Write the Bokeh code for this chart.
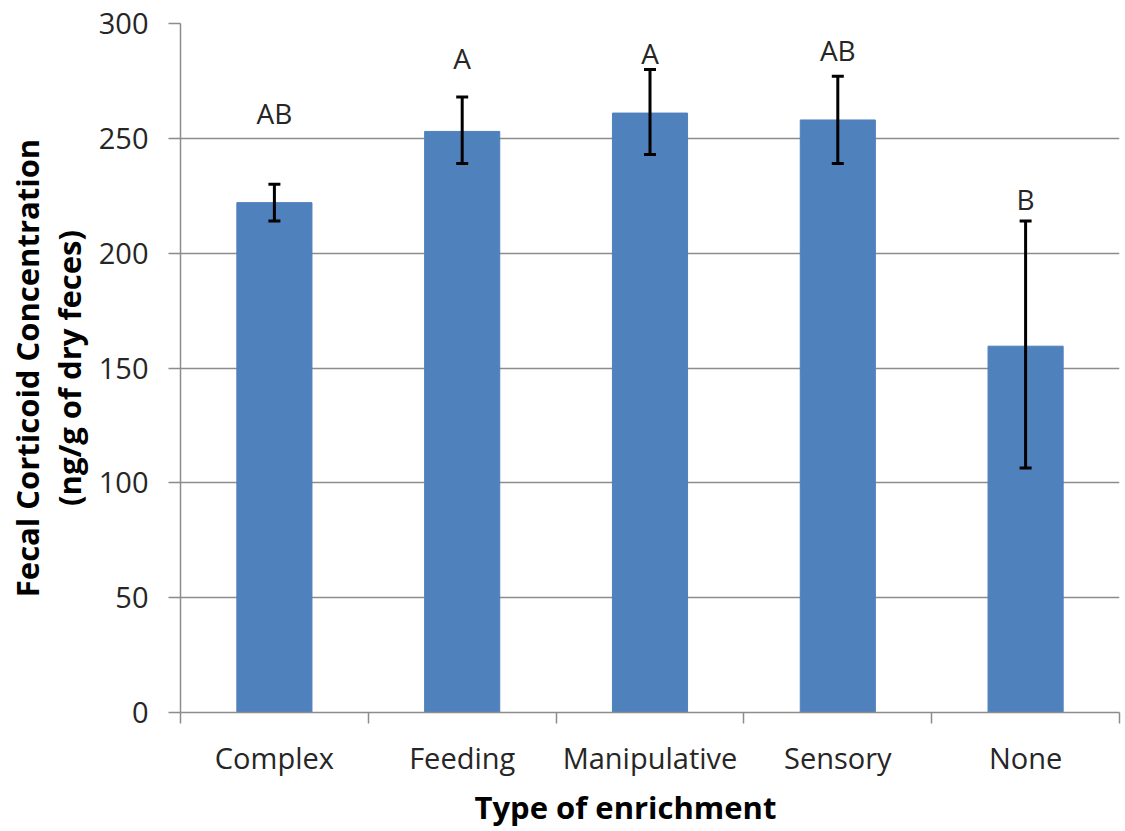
import numpy as np
from bokeh.plotting import figure
from bokeh.models import Range1d, FixedTicker, ColumnDataSource, Whisker, TeeHead, Title
from bokeh.core.properties import value
from bokeh.embed import file_html
from bokeh.resources import INLINE

# ---- data ----
categories = ["Complex", "Feeding", "Manipulative", "Sensory", "None"]
means = [222, 253, 261, 258, 159.5]
err_upper = [230, 268, 280, 277, 214]
err_lower = [214, 239, 243, 239, 106.5]
letters = ["AB", "A", "A", "AB", "B"]
letter_y = [261, 285, 287, 288.5, 223.5]
y_ticks = [0, 50, 100, 150, 200, 250, 300]

x = [i + 0.5 for i in range(len(categories))]
src = ColumnDataSource(dict(x=x, mean=means, upper=err_upper, lower=err_lower,
                            letter=letters, ly=letter_y, cat=categories))

GRID = "#8c8c8c"
TXT = "#262626"
FONT = "Open Sans"

p = figure(width=1125, height=831,
           x_range=Range1d(0, len(categories)), y_range=Range1d(0, 300),
           output_backend="svg", toolbar_location=None,
           min_border_left=180, min_border_right=6, min_border_top=23, min_border_bottom=119)
p.outline_line_color = None
p.background_fill_color = "white"
p.border_fill_color = "white"

p.vbar(x="x", top="mean", width=0.4, source=src, fill_color="#4F81BD", line_color="#4F81BD")

head = dict(size=12, line_width=3, line_color="black")
w = Whisker(base="x", upper="upper", lower="lower", source=src,
            line_width=3, line_color="black", level="overlay",
            upper_head=TeeHead(**head), lower_head=TeeHead(**head))
p.add_layout(w)

p.text(x="x", y="ly", text="letter", source=src, text_align="center", text_baseline="middle",
       text_font=value(FONT), text_font_size="28px", text_color=TXT)

# x axis
p.xaxis.ticker = FixedTicker(ticks=x, minor_ticks=list(range(len(categories) + 1)))
p.xaxis.major_label_overrides = {xi: c for xi, c in zip(x, categories)}
p.xaxis.major_tick_line_color = None
p.xaxis.minor_tick_line_color = GRID
p.xaxis.minor_tick_line_width = 1.5
p.xaxis.minor_tick_in = 0
p.xaxis.minor_tick_out = 11
p.xaxis.axis_line_color = GRID
p.xaxis.axis_line_width = 1.5
p.xaxis.major_label_standoff = 14

# x-axis title (slightly left of centre, as in the reference)
xt = Title(text="Type of enrichment", align="left", offset=294, standoff=8,
           text_font=FONT, text_font_size="31px", text_font_style="bold", text_color="black")
p.add_layout(xt, "below")

# y axis
p.yaxis.ticker = FixedTicker(ticks=y_ticks)
p.yaxis.major_tick_line_color = GRID
p.yaxis.major_tick_line_width = 1.5
p.yaxis.major_tick_in = 0
p.yaxis.major_tick_out = 12
p.yaxis.minor_tick_line_color = None
p.yaxis.axis_line_color = GRID
p.yaxis.axis_line_width = 1.5
p.yaxis.major_label_standoff = 20
p.yaxis.axis_label = "Fecal Corticoid Concentration\n(ng/g of dry feces)"
p.yaxis.axis_label_standoff = 6
p.yaxis.axis_label_text_line_height = 1.0

for ax in (p.xaxis, p.yaxis):
    ax.major_label_text_font = FONT
    ax.major_label_text_font_size = "29px"
    ax.major_label_text_color = TXT
    ax.axis_label_text_font = FONT
    ax.axis_label_text_font_size = "31px"
    ax.axis_label_text_font_style = "bold"
    ax.axis_label_text_color = "black"

p.xgrid.visible = False
p.ygrid.ticker = FixedTicker(ticks=y_ticks)
p.ygrid.grid_line_color = GRID
p.ygrid.grid_line_width = 1.5

open("out.html", "w").write(file_html(p, INLINE))
